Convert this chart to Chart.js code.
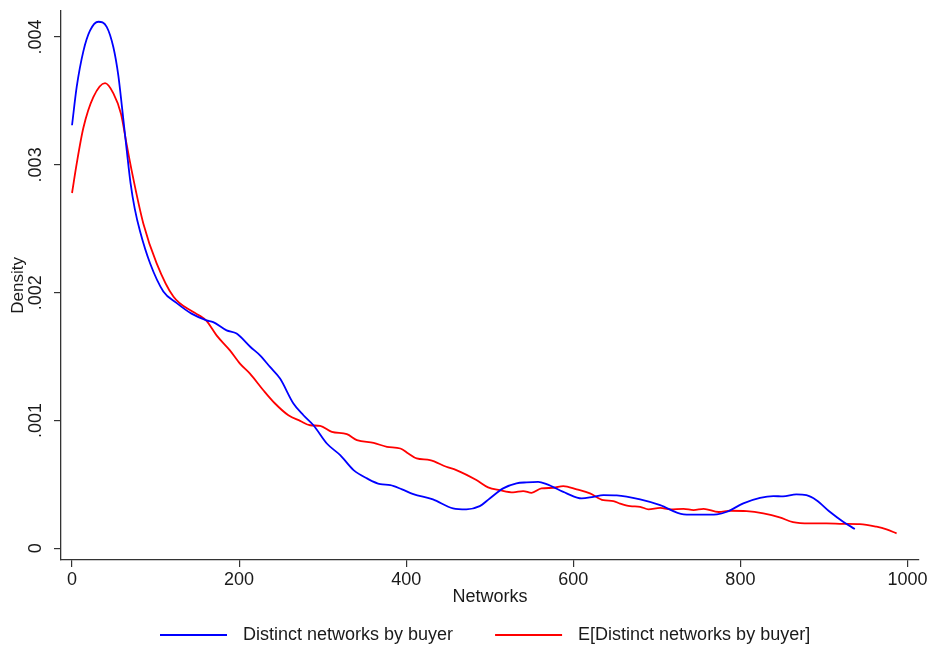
<!DOCTYPE html>
<html>
<head>
<meta charset="utf-8">
<title>Distinct networks by buyer - density</title>
<script src="https://cdn.jsdelivr.net/npm/chart.js@4.4.0/dist/chart.umd.min.js"></script>
<style>
  html, body { margin: 0; padding: 0; background: #fff; }
  canvas { display: block; }
</style>
</head>
<body>
<canvas id="densityChart" width="933" height="653"></canvas>
<script>
// Kernel density of distinct networks per buyer, observed vs expected

const seriesLabels = ['Distinct networks by buyer', 'E[Distinct networks by buyer]'];
const xTicks = [0, 200, 400, 600, 800, 1000];
const yTicks = [0, 0.001, 0.002, 0.003, 0.004];

// observed (blue)
const observedX = [0, 5.6, 13.6, 21.5, 31.5, 41.5, 49.5, 55.4, 60, 65.4, 70, 75, 81.4, 93.4, 109.3, 125, 143, 161, 169,
  185, 197, 213.6, 225, 237, 249, 265, 277, 289, 305, 321, 337, 353, 369, 381, 395, 408.5, 432, 456, 472, 488, 500,
  516, 532, 544, 558, 568, 592, 610, 624, 636, 652, 680, 704, 732, 752, 772, 784, 803.5, 823.5, 839.5, 851, 867, 879,
  891, 907, 923, 937];
const observedY = [.00331, .00361, .00389, .00405, .00412, .00408, .00392, .00370, .00344, .00312, .00286, .00266,
  .00248, .00223, .00201, .00192, .001836, .001784, .00177, .001705, .00168, .001575, .00151, .001419, .001328, .001133,
  .001041, .000963, .00082, .000729, .000612, .000547, .000502, .000495, .000461, .000424, .000383, .000313, .000305,
  .00033, .00039, .000469, .000508, .000516, .00052, .000502, .00043, .00039, .000403, .000416, .000414, .000383,
  .000338, .000266, .000263, .000266, .000286, .000352, .000395, .000409, .000406, .000422, .000416, .000377, .000286,
  .000208, .000151];

// expected (red)
const expectedX = [0, 5.6, 13.6, 25.5, 39.5, 49.5, 58.6, 65.4, 71.4, 85.4, 101.3, 121.3, 145.2, 153, 161, 173, 189,
  201, 213, 229, 243, 259, 273, 285, 297, 311, 329, 341, 361, 377, 393, 402.5, 412.5, 428.5, 448, 460, 484, 498, 512,
  528, 540, 550, 562, 576, 588, 604, 620, 636, 648, 656, 668, 680, 690, 704, 716, 732, 744, 756, 774, 788, 807.5,
  827.5, 847, 863, 883, 903, 923, 943, 963, 975, 987];
const expectedY = [.00278, .00301, .00329, .00353, .00364, .00356, .00340, .00316, .002955, .00254, .00223, .00197,
  .001848, .00182, .00178, .001666, .001549, .001445, .001367, .001237, .001133, .001041, .000997, .000963, .000958,
  .000911, .000893, .000846, .000825, .000794, .000781, .000742, .000703, .00069, .000638, .000612, .000534, .000477,
  .000455, .000438, .000448, .000434, .000469, .000473, .000487, .000461, .00043, .000377, .00037, .00035, .00033,
  .000325, .000305, .000317, .000305, .000309, .000299, .000309, .000284, .000294, .000291, .000273, .000242,
  .000205, .000195, .000195, .000192, .00019, .000169, .000148, .000117];

const FONT = "'Liberation Sans', Arial, Helvetica, sans-serif";
const INK = '#1a1a1a';

function toPoints(xs, ys) {
  return xs.map((x, i) => ({ x: x, y: ys[i] }));
}

function formatDensity(v) {
  if (Math.abs(v) < 1e-9) return '0';
  return v.toFixed(3).replace(/^0/, '');
}

// Stata-like legend below the axis: short line + label, side by side
const bottomLegend = {
  id: 'bottomLegend',
  afterDraw(chart) {
    const ctx = chart.ctx;
    const y = 635;
    const lineLen = 67;
    let x = 160;
    ctx.save();
    ctx.font = '18px ' + FONT;
    ctx.textBaseline = 'middle';
    ctx.fillStyle = INK;
    chart.data.datasets.forEach(ds => {
      ctx.strokeStyle = ds.borderColor;
      ctx.lineWidth = 1.8;
      ctx.beginPath();
      ctx.moveTo(x, y);
      ctx.lineTo(x + lineLen, y);
      ctx.stroke();
      const tx = x + lineLen + 16;
      ctx.fillText(ds.label, tx, y);
      x = tx + ctx.measureText(ds.label).width + 42;
    });
    ctx.restore();
  }
};

const ctx = document.getElementById('densityChart').getContext('2d');

new Chart(ctx, {
  type: 'line',
  data: {
    datasets: [
      {
        label: seriesLabels[0],
        data: toPoints(observedX, observedY),
        borderColor: '#0000ff',
        borderWidth: 1.8,
        pointRadius: 0,
        cubicInterpolationMode: 'monotone',
        fill: false
      },
      {
        label: seriesLabels[1],
        data: toPoints(expectedX, expectedY),
        borderColor: '#ff0000',
        borderWidth: 1.8,
        pointRadius: 0,
        cubicInterpolationMode: 'monotone',
        fill: false
      }
    ]
  },
  options: {
    responsive: false,
    animation: false,
    layout: { padding: { top: 10, right: 14, bottom: 0, left: 0 } },
    plugins: {
      legend: { display: false },
      tooltip: { enabled: false }
    },
    scales: {
      x: {
        type: 'linear',
        min: -13.2,
        max: 1013.8,
        afterBuildTicks: s => { s.ticks = xTicks.map(v => ({ value: v })); },
        afterFit: s => { s.height = 93; },
        ticks: {
          color: INK,
          font: { family: FONT, size: 18 },
          padding: 2,
          maxRotation: 0,
          autoSkip: false,
          callback: v => String(v)
        },
        grid: { display: true, drawOnChartArea: false, drawTicks: true, tickLength: 7, color: '#333', lineWidth: 1.2 },
        border: { display: true, color: '#333', width: 1.3 },
        title: {
          display: true,
          text: 'Networks',
          color: INK,
          font: { family: FONT, size: 18 },
          padding: { top: 0, bottom: 45 }
        }
      },
      y: {
        type: 'linear',
        min: -0.0000914,
        max: 0.0042055,
        afterBuildTicks: s => { s.ticks = yTicks.map(v => ({ value: v })); },
        afterFit: s => { s.width = 61; },
        ticks: {
          color: INK,
          font: { family: FONT, size: 18 },
          padding: 0,
          minRotation: 90,
          maxRotation: 90,
          crossAlign: 'center',
          autoSkip: false,
          callback: v => formatDensity(v)
        },
        grid: { display: true, drawOnChartArea: false, drawTicks: true, tickLength: 7, color: '#333', lineWidth: 1.2 },
        border: { display: true, color: '#333', width: 1.3 },
        title: {
          display: true,
          text: 'Density',
          color: INK,
          font: { family: FONT, size: 17 },
          padding: { top: 8, bottom: 0 }
        }
      }
    }
  },
  plugins: [bottomLegend]
});
</script>
</body>
</html>
